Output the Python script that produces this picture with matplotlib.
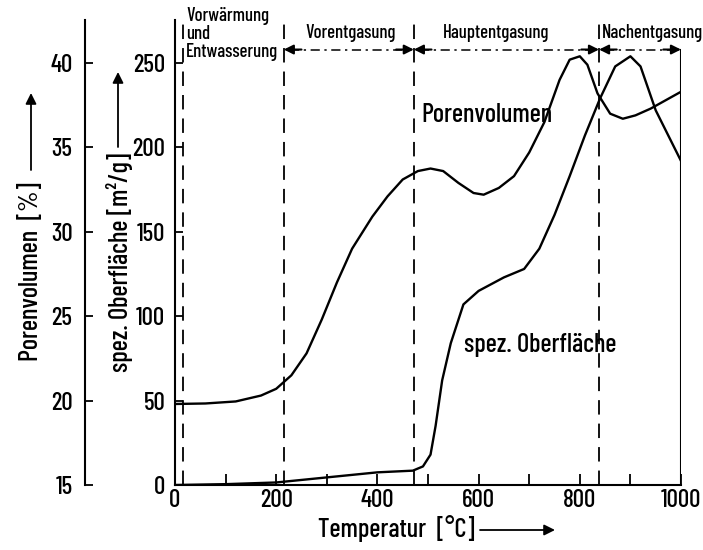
import matplotlib
matplotlib.use('Agg')
import matplotlib.pyplot as plt
from matplotlib.patches import FancyArrowPatch

plt.rcParams['font.family'] = ['Barlow Condensed', 'DejaVu Sans']
plt.rcParams['font.weight'] = 'medium'

# Porenvolumen [%] vs temperature
temp_pv = [0, 60, 120, 170, 200, 230, 260, 290, 320, 350, 390, 420, 450, 480, 505,
           530, 560, 590, 610, 640, 670, 700, 730, 760, 780, 800, 815, 835, 860, 885,
           910, 940, 970, 1000]
porenvolumen = [19.8, 19.83, 19.95, 20.3, 20.7, 21.5, 22.8, 24.8, 27.0, 29.0, 30.9,
                32.1, 33.1, 33.6, 33.75, 33.6, 32.9, 32.3, 32.2, 32.6, 33.3, 34.7, 36.5,
                39.0, 40.2, 40.4, 39.9, 38.2, 37.0, 36.7, 36.9, 37.3, 37.8, 38.3]

# spez. Oberflaeche [m2/g] vs temperature
temp_s = [0, 100, 200, 300, 400, 470, 490, 505, 515, 528, 545, 570, 600, 650, 690,
          720, 750, 780, 810, 840, 870, 900, 920, 950, 975, 1000]
oberflaeche = [0, 0.5, 1.5, 4.5, 7.5, 8.5, 11, 18, 35, 62, 84, 107, 115, 123, 128,
               140, 160, 183, 207, 229, 248, 254, 248, 222, 207, 192]

# phase boundaries and names
phase_bounds = [15, 215, 472, 838]
phase_names = ['Vorentgasung', 'Hauptentgasung', 'Nachentgasung']
phase_ranges = [(215, 472), (472, 838), (838, 1000)]
phase_label_x = [346, 634, 843]
phase_label_ha = ['center', 'center', 'left']

fig = plt.figure(figsize=(7.03, 5.5), dpi=100)
ax = fig.add_axes([175 / 703, 65 / 550, 506 / 703, 465 / 550])

S_TOP = 275.5
ax.set_xlim(0, 1000)
ax.set_ylim(0, S_TOP)

ax.plot(temp_s, oberflaeche, color='black', lw=1.7)

# second axis for Porenvolumen (15 % <-> 0 m2/g, 5 % <-> 50 m2/g)
axp = ax.twinx()
axp.set_ylim(15, 15 + S_TOP / 10)
axp.plot(temp_pv, porenvolumen, color='black', lw=1.7)
axp.yaxis.set_ticks_position('left')
axp.yaxis.set_label_position('left')
axp.spines['left'].set_position(('axes', -90 / 506))
for s in ['right', 'top', 'bottom']:
    axp.spines[s].set_visible(False)
axp.spines['left'].set_linewidth(1.5)
axp.set_yticks([15, 20, 25, 30, 35, 40])
axp.tick_params(axis='y', direction='in', length=6, width=1.3, labelsize=18, pad=9)

for s in ['right', 'top']:
    ax.spines[s].set_visible(False)
ax.spines['left'].set_linewidth(1.5)
ax.spines['bottom'].set_linewidth(1.5)
ax.set_yticks([0, 50, 100, 150, 200, 250])
ax.set_xticks([0, 200, 400, 600, 800, 1000])
ax.set_xticks(range(100, 1000, 200), minor=True)
ax.tick_params(axis='both', which='both', direction='in', width=1.3, labelsize=18)
ax.tick_params(axis='y', length=6, pad=7)
ax.tick_params(axis='x', which='both', length=8, pad=3)

# phase boundaries
for b in phase_bounds:
    ax.axvline(b, color='black', lw=1.3, dashes=(8, 5))
ax.plot([1000, 1000], [0, 258], color='black', lw=1.5)

# phase arrows
y_arr = 258
for (x0, x1), name, lx, ha in zip(phase_ranges, phase_names, phase_label_x, phase_label_ha):
    ax.plot([x0 + 12, x1 - 12], [y_arr, y_arr], color='black', lw=1.1,
            dashes=(6, 3, 1.5, 3), clip_on=False)
    for a, b in [(x0, x0 + 35), (x1, x1 - 35)]:
        ax.annotate('', xy=(a, y_arr), xytext=(b, y_arr),
                    arrowprops=dict(arrowstyle='-|>', color='black', lw=1.5,
                                    mutation_scale=14, shrinkA=0, shrinkB=0),
                    annotation_clip=False)
    ax.text(lx, 268, name, ha=ha, va='center', fontsize=13.5)

ax.text(22, 283, 'Vorwärmung\nund\nEntwasserung', ha='left', va='top',
        fontsize=13.5, linespacing=1.0, clip_on=False)

# curve labels
ax.text(487, 219, 'Porenvolumen', ha='left', va='center', fontsize=19)
ax.text(572, 83, 'spez. Oberfläche', ha='left', va='center', fontsize=19)

# axis labels with arrows
fig.text(31 / 703, 1 - 272 / 550, 'Porenvolumen  [%]', rotation=90,
         ha='center', va='center', fontsize=19)
fig.text(120 / 703, 1 - 262 / 550, 'spez. Oberfläche [m²/g]', rotation=90,
         ha='center', va='center', fontsize=19)
fig.text(396 / 703, 1 - 528 / 550, 'Temperatur  [°C]', ha='center', va='center',
         fontsize=19)
arrow_kw = dict(arrowstyle='-|>', color='black', lw=1.3, mutation_scale=16,
                shrinkA=0, shrinkB=0)
fig.add_artist(FancyArrowPatch((31 / 703, 1 - 170 / 550), (31 / 703, 1 - 93 / 550),
                               transform=fig.transFigure, **arrow_kw))
fig.add_artist(FancyArrowPatch((118 / 703, 1 - 147 / 550), (118 / 703, 1 - 72 / 550),
                               transform=fig.transFigure, **arrow_kw))
fig.add_artist(FancyArrowPatch((480 / 703, 1 - 530 / 550), (555 / 703, 1 - 530 / 550),
                               transform=fig.transFigure, **arrow_kw))

fig.savefig('out.png', dpi=100)
